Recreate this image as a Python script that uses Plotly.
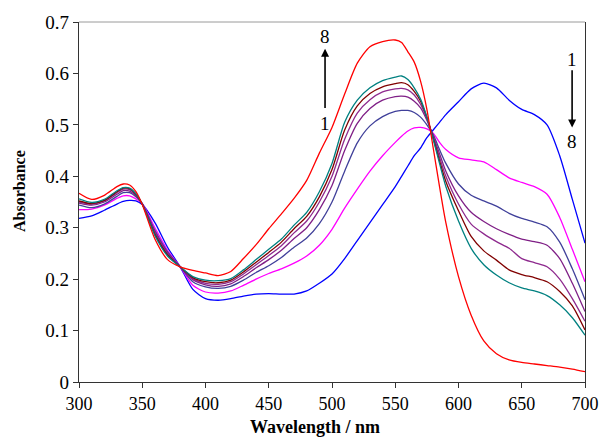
import plotly.graph_objects as go

wavelength = [300, 310, 320, 330, 335, 340, 345, 350, 360, 370, 380, 390, 400, 410, 420, 430, 440, 450,
              460, 470, 480, 490, 500, 510, 520, 530, 540, 550, 555, 560, 565, 570, 575, 580, 585, 590,
              600, 610, 620, 630, 640, 650, 660, 670, 680, 690, 700]

abs_1 = [.318, .323, .334, .346, .351, .353, .352, .345, .310, .262, .224, .180, .162, .159, .162, .167, .171, .172,
         .171, .171, .177, .192, .210, .240, .275, .310, .345, .380, .400, .420, .440, .455, .475, .490, .505, .520,
         .545, .570, .581, .572, .548, .530, .520, .500, .440, .355, .270]
abs_2 = [.335, .336, .344, .357, .362, .362, .356, .347, .300, .256, .224, .188, .175, .173, .177, .188, .200, .211,
         .220, .231, .245, .266, .297, .338, .375, .410, .440, .466, .478, .488, .494, .495, .492, .484, .466, .452,
         .436, .432, .428, .413, .397, .388, .380, .365, .320, .258, .195]
abs_3 = [.344, .339, .346, .361, .368, .368, .360, .347, .295, .253, .224, .195, .185, .182, .186, .198, .213, .226,
         .242, .262, .280, .308, .350, .410, .465, .498, .516, .526, .528, .528, .524, .515, .500, .481, .452, .425,
         .385, .363, .352, .342, .328, .318, .311, .302, .272, .220, .160]
abs_4 = [.348, .344, .350, .365, .372, .371, .362, .346, .292, .251, .224, .199, .189, .186, .191, .205, .222, .238,
         .256, .279, .300, .335, .382, .450, .503, .532, .548, .555, .556, .554, .546, .533, .509, .478, .444, .410,
         .362, .330, .312, .298, .287, .278, .273, .266, .240, .192, .137]
abs_5 = [.350, .346, .352, .368, .375, .374, .364, .346, .289, .249, .224, .201, .192, .190, .195, .210, .228, .246,
         .265, .290, .313, .350, .400, .472, .523, .549, .564, .570, .571, .568, .558, .540, .512, .476, .437, .400,
         .346, .307, .288, .273, .260, .240, .232, .224, .200, .162, .118]
abs_6 = [.352, .347, .353, .370, .377, .376, .365, .346, .287, .247, .224, .203, .195, .193, .198, .214, .233, .252,
         .272, .298, .322, .360, .413, .490, .537, .561, .574, .580, .582, .578, .565, .546, .515, .474, .430, .390,
         .333, .283, .255, .237, .218, .209, .203, .195, .176, .148, .101]
abs_7 = [.356, .349, .355, .372, .378, .377, .366, .346, .285, .245, .224, .205, .198, .197, .201, .218, .238, .258,
         .278, .305, .330, .370, .425, .505, .548, .572, .586, .593, .595, .588, .572, .550, .515, .472, .425, .380,
         .313, .260, .228, .208, .193, .183, .177, .168, .150, .125, .091]
abs_8 = [.367, .355, .363, .380, .385, .383, .370, .345, .278, .238, .224, .217, .212, .207, .215, .240, .267, .298,
         .327, .357, .392, .445, .495, .560, .620, .652, .662, .665, .660, .642, .622, .585, .530, .455, .380, .310,
         .205, .130, .080, .055, .043, .038, .035, .032, .029, .025, .020]

series = [abs_1, abs_2, abs_3, abs_4, abs_5, abs_6, abs_7, abs_8]
names = ["1", "2", "3", "4", "5", "6", "7", "8"]
colors = ["#0000FF", "#FF00FF", "#40409A", "#7F1F86", "#8E2A8E", "#800000", "#008080", "#FF0000"]

x_ticks = [300, 350, 400, 450, 500, 550, 600, 650, 700]
y_ticks = [0, 0.1, 0.2, 0.3, 0.4, 0.5, 0.6, 0.7]
y_tick_labels = ["0", "0.1", "0.2", "0.3", "0.4", "0.5", "0.6", "0.7"]

FONT = "Liberation Serif"

fig = go.Figure()
for vals, name, col in zip(series, names, colors):
    fig.add_trace(go.Scatter(x=wavelength, y=vals, mode="lines", name=name,
                             line=dict(color=col, width=1.3, shape="spline", smoothing=0.7)))

# arrows and labels
arrow_up_x = 494.5
arrow_down_x = 689.8
fig.add_annotation(x=arrow_up_x, y=0.648, ax=arrow_up_x, ay=0.53, xref="x", yref="y", axref="x", ayref="y",
                   text="", showarrow=True, arrowhead=2, arrowsize=1, arrowwidth=1.6, arrowcolor="black")
fig.add_annotation(x=arrow_up_x, y=0.672, text="8", showarrow=False, font=dict(family=FONT, size=19, color="black"))
fig.add_annotation(x=arrow_up_x, y=0.503, text="1", showarrow=False, font=dict(family=FONT, size=19, color="black"))
fig.add_annotation(x=arrow_down_x, y=0.495, ax=arrow_down_x, ay=0.609, xref="x", yref="y", axref="x", ayref="y",
                   text="", showarrow=True, arrowhead=2, arrowsize=1, arrowwidth=1.6, arrowcolor="black")
fig.add_annotation(x=arrow_down_x, y=0.628, text="1", showarrow=False, font=dict(family=FONT, size=19, color="black"))
fig.add_annotation(x=arrow_down_x, y=0.468, text="8", showarrow=False, font=dict(family=FONT, size=19, color="black"))

# axis titles
fig.add_annotation(x=0.466, y=-0.124, xref="paper", yref="paper", xanchor="center", yanchor="middle",
                   text="<b>Wavelength / nm</b>", showarrow=False,
                   font=dict(family=FONT, size=18, color="black"))
fig.add_annotation(x=-0.119, y=0.53, xref="paper", yref="paper", xanchor="center", yanchor="middle",
                   text="<b>Absorbance</b>", showarrow=False,
                   textangle=-90, font=dict(family=FONT, size=16, color="black"))

# top frame line (lighter)
fig.add_shape(type="line", xref="paper", yref="paper", x0=0, x1=1, y0=1, y1=1,
              line=dict(color="#9a9a9a", width=1))

fig.update_layout(
    width=611, height=444,
    margin=dict(l=79, r=20, t=20, b=62),
    paper_bgcolor="white", plot_bgcolor="white",
    showlegend=False,
    font=dict(family=FONT, size=18, color="black"),
)
fig.update_xaxes(range=[300, 700], tickvals=x_ticks, ticks="outside", ticklen=5, tickcolor="#333",
                 showline=True, linecolor="#333", linewidth=1.3, showgrid=False, zeroline=False, mirror=False,
                 tickfont=dict(family=FONT, size=18, color="black"))
fig.update_yaxes(range=[0, 0.7], tickvals=y_ticks, ticktext=y_tick_labels, ticks="outside", ticklen=5,
                 tickcolor="#333", showline=True, linecolor="#333", linewidth=1.3, showgrid=False,
                 zeroline=False, mirror=True, tickfont=dict(family=FONT, size=19, color="black"))

fig.write_html("out.html")
